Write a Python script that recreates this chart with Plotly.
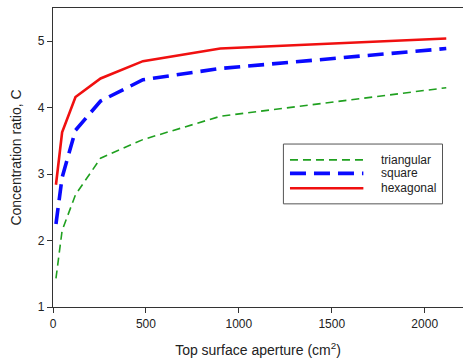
import plotly.graph_objects as go

# Top surface aperture (cm^2)
aperture = [16, 49, 121, 256, 484, 900, 2116]

# Concentration ratio for each aperture geometry
triangular = [1.43, 2.15, 2.69, 3.24, 3.52, 3.87, 4.30]
square = [2.25, 2.95, 3.66, 4.10, 4.42, 4.59, 4.89]
hexagonal = [2.84, 3.63, 4.16, 4.44, 4.70, 4.89, 5.04]

x_ticks = [0, 500, 1000, 1500, 2000]
y_ticks = [1, 2, 3, 4, 5]

series = [
    ("triangular", triangular, "#1fa01f", 1.6, "8px,5px"),
    ("square", square, "#0a0aff", 3.6, "16px,8px"),
    ("hexagonal", hexagonal, "#f01010", 2.6, "solid"),
]

fig = go.Figure()
for name, vals, color, width, dash in series:
    fig.add_trace(go.Scatter(
        x=aperture, y=vals, mode="lines", name=name,
        line=dict(color=color, width=width, dash=dash),
        showlegend=False,
    ))

# Boxed legend drawn with shapes and text
box = dict(x0=0.562, x1=0.950, y0=0.345, y1=0.545)
fig.add_shape(type="rect", xref="paper", yref="paper", **box,
              line=dict(color="#555555", width=1), fillcolor="white")
rows_y = [0.492, 0.447, 0.397]
for (name, vals, color, width, dash), yy in zip(series, rows_y):
    fig.add_shape(type="line", xref="paper", yref="paper",
                  x0=0.578, x1=0.757, y0=yy, y1=yy,
                  line=dict(color=color, width=width, dash=dash))
    fig.add_annotation(xref="paper", yref="paper", x=0.795, y=yy,
                       text=name, showarrow=False, xanchor="left",
                       yanchor="middle",
                       font=dict(size=12, color="#222222"))

axis_common = dict(
    showline=True, linecolor="#333333", linewidth=1.2,
    ticks="outside", ticklen=5, tickcolor="#333333",
    showgrid=False, zeroline=False,
    tickfont=dict(size=12, color="#222222"),
)

fig.update_xaxes(
    range=[0, 2206], tickvals=x_ticks, mirror=True,
    title=dict(text="Top surface aperture (cm<sup>2</sup>)",
               font=dict(size=14, color="#222222"), standoff=15),
    **axis_common,
)
fig.update_yaxes(
    range=[1, 5.5], tickvals=y_ticks,
    title=dict(text="Concentration ratio, C",
               font=dict(size=14, color="#222222"), standoff=12),
    **axis_common,
)

fig.update_layout(
    width=463, height=360,
    margin=dict(l=53, r=0, t=8, b=53),
    paper_bgcolor="white", plot_bgcolor="white",
    font=dict(family="Liberation Sans, Arial, sans-serif"),
)

fig.write_html("out.html")
